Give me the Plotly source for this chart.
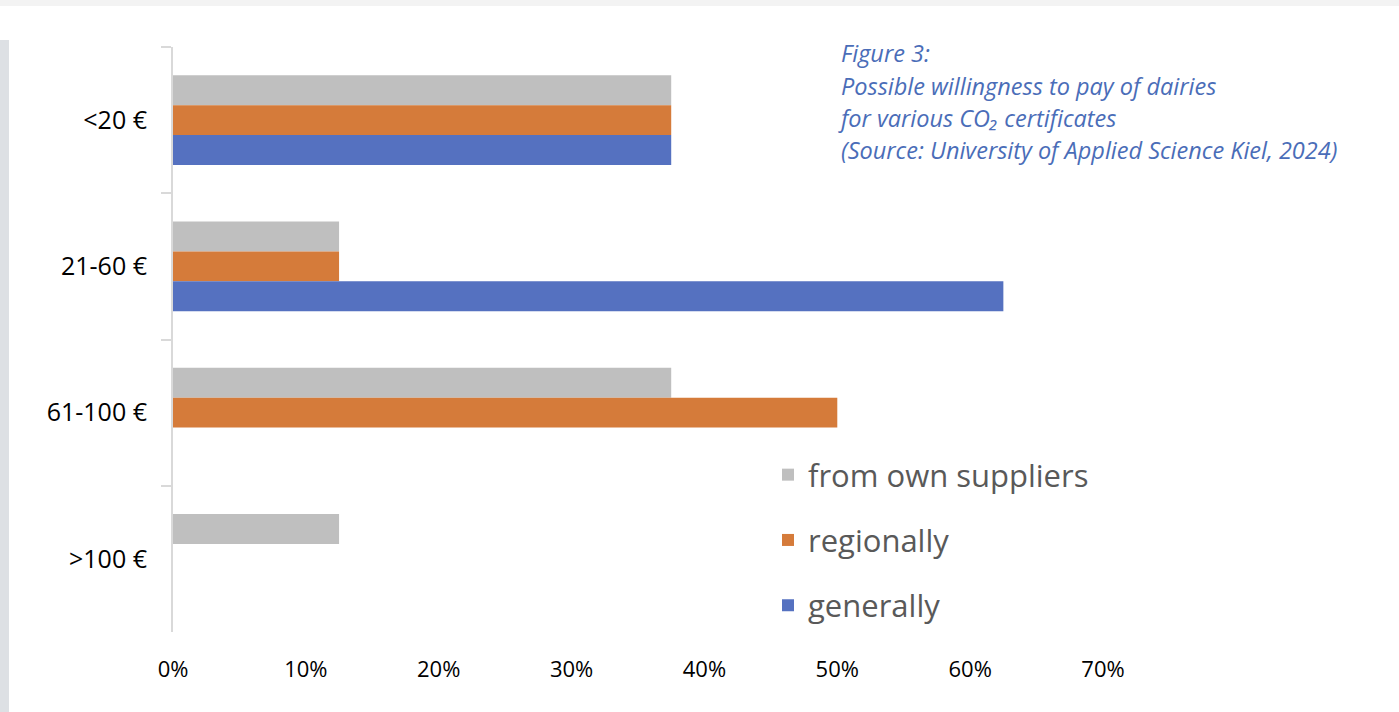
import plotly.graph_objects as go

categories = ["<20 €", "21-60 €", "61-100 €", ">100 €"]
own_suppliers = [0.375, 0.125, 0.375, 0.125]
regionally = [0.375, 0.125, 0.50, 0.0]
generally = [0.375, 0.625, 0.0, 0.0]
x_ticks = [0, 0.1, 0.2, 0.3, 0.4, 0.5, 0.6, 0.7]
title_lines = ["Figure 3:",
               "Possible willingness to pay of dairies",
               "for various CO₂ certificates",
               "(Source: University of Applied Science Kiel, 2024)"]

W, H = 1399, 712
L, R, T, B = 173, 296, 47, 80
pw, ph = W - L - R, H - T - B

def px(xp):
    return (xp - L) / pw

def py(yp):
    return (H - B - yp) / ph

fig = go.Figure()
fig.add_trace(go.Bar(y=categories, x=own_suppliers, orientation="h", name="from own suppliers",
                     legendgroup="g0", marker=dict(color="#BFBFBF", line=dict(width=0))))
fig.add_trace(go.Bar(y=categories, x=regionally, orientation="h", name="regionally",
                     legendgroup="g1", marker=dict(color="#D57B3A", line=dict(width=0))))
fig.add_trace(go.Bar(y=categories, x=generally, orientation="h", name="generally",
                     legendgroup="g2", marker=dict(color="#5571C0", line=dict(width=0))))

title_y = [53, 86, 118, 150]
title_x = [839, 839, 836, 839]
annotations = []
for txt, xc, yc in zip(title_lines, title_x, title_y):
    annotations.append(dict(x=px(xc), y=py(yc), xref="paper", yref="paper", xanchor="left",
                            yanchor="middle", align="left", showarrow=False, text=txt,
                            font=dict(size=23.5, color="#4A6DB8", family="Open Sans, sans-serif",
                                      style="italic")))

fig.update_layout(
    width=W, height=H,
    margin=dict(l=L, r=R, t=T, b=B),
    paper_bgcolor="white", plot_bgcolor="white",
    barmode="group", bargap=0.385, bargroupgap=0,
    font=dict(family="Open Sans, Liberation Sans, sans-serif", color="#000000"),
    xaxis=dict(range=[0, 0.7], tickvals=x_ticks, tickformat=".0%", showgrid=False,
               zeroline=False, showline=False, ticks="", tickfont=dict(size=22, color="#000000"),
               ticklabelstandoff=22),
    yaxis=dict(autorange="reversed", showgrid=False, zeroline=False, showline=True,
               linecolor="#D9D9D9", linewidth=2, ticks="outside", tickson="boundaries",
               ticklen=10, tickcolor="#D9D9D9", tickwidth=2,
               tickfont=dict(size=25, color="#000000"), ticklabelstandoff=19),
    legend=dict(x=px(768), y=py(448), xanchor="left", yanchor="top",
                font=dict(size=31, color="#595959"), tracegroupgap=22,
                traceorder="grouped", itemwidth=30, bgcolor="rgba(0,0,0,0)"),
    showlegend=True,
    annotations=annotations,
    shapes=[
        dict(type="rect", xref="paper", yref="paper", x0=px(0), x1=px(9), y0=py(712), y1=py(40),
             fillcolor="#DDE0E4", line=dict(width=0), layer="below"),
        dict(type="rect", xref="paper", yref="paper", x0=px(0), x1=px(1399), y0=py(6), y1=py(0),
             fillcolor="#F3F3F3", line=dict(width=0), layer="below"),
    ],
)

fig.write_html("out.html")
